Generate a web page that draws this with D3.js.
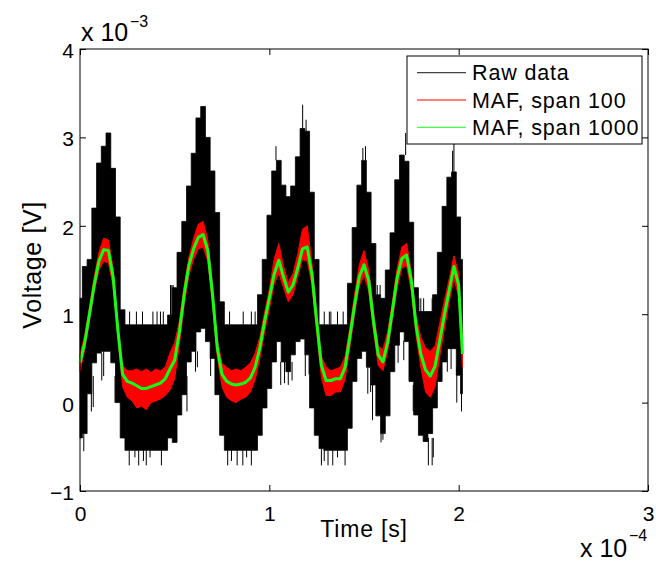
<!DOCTYPE html>
<html>
<head>
<meta charset="utf-8">
<script src="https://cdn.jsdelivr.net/npm/d3@7"></script>
<style>
  html, body { margin: 0; padding: 0; background: #fff; }
  svg { display: block; }
  text { font-family: "Liberation Sans", Arial, Helvetica, sans-serif; fill: #000; }
</style>
</head>
<body>
<svg id="chart" width="656" height="561"></svg>
<script>
// ---- data (time in units of 1e-4 s, voltage in units of 1e-3 V) ----
const time = [0.000,0.025,0.050,0.075,0.100,0.125,0.150,0.175,0.200,0.225,
              0.250,0.275,0.300,0.325,0.350,0.375,0.400,0.425,0.450,0.475,
              0.500,0.525,0.550,0.575,0.600,0.625,0.650,0.675,0.700,0.725,
              0.750,0.775,0.800,0.825,0.850,0.875,0.900,0.925,0.950,0.975,
              1.000,1.025,1.050,1.075,1.100,1.125,1.150,1.175,1.200,1.225,
              1.250,1.275,1.300,1.325,1.350,1.375,1.400,1.425,1.450,1.475,
              1.500,1.525,1.550,1.575,1.600,1.625,1.650,1.675,1.700,1.725,
              1.750,1.775,1.800,1.825,1.850,1.875,1.900,1.925,1.950,1.975,
              2.000,2.020];

// raw data envelope (max / min of the noisy samples around each time)
const rawMax = [1.18,1.54,1.62,2.20,2.71,2.90,3.05,2.65,2.10,1.05,
                0.88,0.88,0.88,0.88,0.88,0.88,0.88,0.88,0.88,0.99,
                1.30,1.70,2.05,2.45,2.82,3.22,3.35,3.00,2.62,2.15,
                1.14,0.88,0.88,0.88,0.88,0.88,0.88,0.88,1.22,1.62,
                2.12,2.62,2.74,2.46,2.33,2.45,2.78,3.10,3.07,2.38,
                1.62,0.88,0.88,0.88,0.88,0.88,0.88,1.35,1.98,2.46,
                2.74,2.38,1.80,1.22,1.18,1.50,1.92,2.52,2.80,2.73,
                2.04,1.30,1.03,1.03,1.03,1.22,1.70,2.22,2.55,2.61,
                2.10,1.62];
const rawMin = [-0.40,-0.35,0.10,0.45,0.56,0.58,0.58,0.45,0.00,-0.40,
                -0.54,-0.54,-0.54,-0.54,-0.54,-0.54,-0.54,-0.54,-0.54,-0.40,
                -0.45,-0.14,0.09,0.46,0.58,0.80,0.84,0.69,0.50,0.09,
                -0.37,-0.54,-0.54,-0.54,-0.54,-0.54,-0.54,-0.54,-0.37,-0.06,
                0.16,0.46,0.69,0.46,0.35,0.54,0.69,0.72,0.54,-0.06,
                -0.37,-0.52,-0.54,-0.54,-0.54,-0.54,-0.54,-0.29,0.24,0.50,
                0.58,0.40,0.20,-0.15,-0.35,-0.15,0.35,0.65,0.80,0.69,
                0.24,-0.14,-0.37,-0.44,-0.35,-0.06,0.24,0.46,0.61,0.61,
                0.31,0.10];

// isolated raw-data spikes: time, start level, end level
const spikeTime = [0.262,0.298,0.330,0.385,0.407,0.425,0.440,0.478,0.485,0.492,
                   0.745,0.758,0.790,0.862,0.905,0.925,1.290,1.317,1.325,1.360,
                   1.390,1.570,1.585,1.790,1.800,1.815,1.860,1.035,1.176,1.194,
                   1.494,1.508,1.720,1.975,1.968,0.260,0.290,0.310,0.335,0.350,
                   0.370,0.430,0.780,0.800,0.830,0.860,0.880,0.905,1.275,1.290,
                   1.310,1.335,1.360,1.400,1.840,1.860,1.866,1.590,1.600,0.020,
                   0.060,0.070,0.115,0.125,0.185,0.565,0.610,0.620,0.690,1.060,
                   1.080,1.100,1.120,1.190,1.210,1.520,1.535,1.545,1.680,1.710,
                   1.760,1.940,1.960,1.990,2.015];
const spikeFrom = [0.88,0.88,0.88,0.88,0.88,0.88,0.88,0.99,0.99,0.99,
                   0.88,0.88,0.88,0.88,0.88,0.88,0.88,0.88,0.88,0.88,
                   0.88,1.22,1.22,1.03,1.03,1.03,1.03,2.74,3.10,3.07,
                   2.74,2.74,2.80,2.61,2.61,-0.54,-0.54,-0.54,-0.54,-0.54,
                   -0.54,-0.54,-0.54,-0.54,-0.54,-0.54,-0.54,-0.54,-0.52,-0.54,
                   -0.54,-0.54,-0.54,-0.54,-0.40,-0.40,-0.40,-0.35,-0.35,-0.35,
                   0.10,0.30,0.56,0.58,0.30,0.30,0.58,0.58,0.55,0.46,
                   0.46,0.35,0.46,0.54,0.54,0.40,0.40,0.20,0.70,0.70,
                   0.20,0.61,0.61,0.40,0.10];
const spikeTo = [1.03,1.03,1.03,1.03,1.03,1.03,1.03,1.33,1.33,1.33,
                 1.03,1.03,1.03,1.03,1.03,1.03,1.03,1.03,1.03,1.03,
                 1.03,1.33,1.33,1.18,1.18,1.18,1.18,2.90,3.37,3.20,
                 2.88,2.90,3.05,2.95,2.85,-0.71,-0.62,-0.71,-0.66,-0.71,
                 -0.62,-0.71,-0.71,-0.66,-0.71,-0.71,-0.62,-0.71,-0.71,-0.66,
                 -0.71,-0.71,-0.62,-0.71,-0.71,-0.71,-0.62,-0.45,-0.42,-0.55,
                 -0.10,-0.05,0.25,0.30,0.00,-0.10,0.35,0.40,0.30,0.20,
                 0.22,0.20,0.25,0.30,0.32,0.10,0.12,-0.20,0.45,0.48,
                 -0.10,0.35,0.38,0.00,-0.10];

// moving average, span 100 (noisy band: upper / lower)
const maf100Max = [0.55,0.76,1.08,1.42,1.70,1.86,1.84,1.52,0.90,0.42,
                   0.36,0.36,0.38,0.35,0.38,0.34,0.38,0.36,0.40,0.56,
                   0.68,0.92,1.32,1.64,1.86,2.02,2.05,1.84,1.32,0.72,
                   0.44,0.40,0.36,0.38,0.36,0.40,0.45,0.56,0.74,1.02,
                   1.28,1.62,1.80,1.54,1.36,1.46,1.68,1.96,2.00,1.58,
                   1.02,0.52,0.40,0.36,0.38,0.40,0.52,0.84,1.22,1.56,
                   1.72,1.50,1.04,0.64,0.60,0.80,1.14,1.52,1.76,1.80,
                   1.48,0.98,0.74,0.62,0.58,0.64,0.90,1.16,1.40,1.66,
                   1.46,0.70];
const maf100Min = [0.35,0.60,0.92,1.25,1.50,1.60,1.58,1.32,0.74,0.18,
                   0.06,0.02,-0.06,-0.04,-0.08,0.00,0.02,0.04,0.08,0.14,
                   0.27,0.66,1.10,1.44,1.62,1.74,1.76,1.60,1.12,0.52,
                   0.18,0.06,0.02,0.00,0.04,0.06,0.12,0.26,0.50,0.80,
                   1.06,1.34,1.46,1.30,1.14,1.22,1.42,1.62,1.60,1.34,
                   0.80,0.28,0.08,0.08,0.12,0.12,0.26,0.62,1.00,1.32,
                   1.44,1.26,0.82,0.42,0.36,0.58,0.94,1.30,1.52,1.55,
                   1.26,0.76,0.40,0.12,0.06,0.18,0.52,0.84,1.14,1.40,
                   1.20,0.40];

// moving average, span 1000
const maf1000 = [0.45,0.68,1.00,1.33,1.60,1.73,1.72,1.42,0.82,0.32,
                 0.24,0.22,0.19,0.16,0.16,0.18,0.20,0.22,0.27,0.38,
                 0.48,0.80,1.22,1.55,1.74,1.87,1.90,1.72,1.22,0.62,
                 0.32,0.24,0.21,0.20,0.21,0.23,0.28,0.40,0.62,0.92,
                 1.18,1.45,1.61,1.42,1.25,1.33,1.52,1.74,1.76,1.45,
                 0.92,0.42,0.25,0.25,0.27,0.27,0.40,0.74,1.10,1.42,
                 1.56,1.38,0.92,0.54,0.46,0.68,1.04,1.41,1.63,1.67,
                 1.38,0.87,0.55,0.37,0.30,0.41,0.70,1.00,1.27,1.54,
                 1.33,0.55];

const xTicks = [0, 1, 2, 3];
const yTicks = [-1, 0, 1, 2, 3, 4];
const xTickLabels = ["0", "1", "2", "3"];
const yTickLabels = ["\u22121", "0", "1", "2", "3", "4"];
const seriesNames = ["Raw data", "MAF, span 100", "MAF, span 1000"];
const seriesColors = ["#000000", "#ff0000", "#11ff11"];
const legendColors = ["#444444", "#ff0000", "#44ff44"];

// ---- drawing ----
const svg = d3.select("#chart");
const L = 80, R = 648, T = 49, B = 491;
const x = d3.scaleLinear().domain([0, 3]).range([L, R]);
const y = d3.scaleLinear().domain([-1, 4]).range([B, T]);

const idx = d3.range(time.length);

// raw data
svg.append("path")
  .datum(idx)
  .attr("d", d3.area().curve(d3.curveStep)
    .x(i => x(time[i])).y0(i => y(rawMin[i])).y1(i => y(rawMax[i])))
  .attr("fill", seriesColors[0])
  .attr("stroke", seriesColors[0]).attr("stroke-width", 0.8);

svg.append("g").selectAll("line").data(d3.range(spikeTime.length)).join("line")
  .attr("x1", i => x(spikeTime[i])).attr("x2", i => x(spikeTime[i]))
  .attr("y1", i => y(spikeFrom[i])).attr("y2", i => y(spikeTo[i]))
  .attr("stroke", seriesColors[0]).attr("stroke-width", 1);

// MAF span 100
svg.append("path")
  .datum(idx)
  .attr("d", d3.area()
    .x(i => x(time[i])).y0(i => y(maf100Min[i])).y1(i => y(maf100Max[i])))
  .attr("fill", seriesColors[1])
  .attr("stroke", seriesColors[1]).attr("stroke-width", 1)
  .attr("stroke-linejoin", "miter");

// MAF span 1000
svg.append("path")
  .datum(idx)
  .attr("d", d3.line().x(i => x(time[i])).y(i => y(maf1000[i])))
  .attr("fill", "none")
  .attr("stroke", seriesColors[2]).attr("stroke-width", 3)
  .attr("stroke-linejoin", "round");

// axes box
svg.append("rect").attr("x", L).attr("y", T).attr("width", R - L).attr("height", B - T)
  .attr("fill", "none").attr("stroke", "#000").attr("stroke-width", 1);

const tickFont = "21px";
const gxB = svg.append("g").attr("transform", `translate(0,${B})`)
  .call(d3.axisBottom(x).tickValues(xTicks).tickSize(-6).tickPadding(15)
        .tickFormat((d, i) => xTickLabels[i]));
const gxT = svg.append("g").attr("transform", `translate(0,${T})`)
  .call(d3.axisTop(x).tickValues(xTicks).tickSize(-6).tickFormat(""));
const gyL = svg.append("g").attr("transform", `translate(${L},0)`)
  .call(d3.axisLeft(y).tickValues(yTicks).tickSize(-6).tickPadding(6)
        .tickFormat((d, i) => yTickLabels[i]));
const gyR = svg.append("g").attr("transform", `translate(${R},0)`)
  .call(d3.axisRight(y).tickValues(yTicks).tickSize(-6).tickFormat(""));
[gxB, gxT, gyL, gyR].forEach(g => {
  g.select(".domain").remove();
  g.selectAll("line").attr("stroke", "#000");
  g.selectAll("text").attr("font-size", tickFont)
    .attr("font-family", "'Liberation Sans', Arial, sans-serif").attr("fill", "#000");
});
gyL.selectAll("text").attr("dy", "0.40em");

// axis labels
svg.append("text").attr("x", 364).attr("y", 537).attr("text-anchor", "middle")
  .attr("font-size", "23px").attr("letter-spacing", "0.8px").text("Time [s]");
svg.append("text").attr("transform", "translate(41,265) rotate(-90)")
  .attr("text-anchor", "middle").attr("font-size", "25px").attr("letter-spacing", "0.6px")
  .text("Voltage [V]");

// exponent annotations
svg.append("text").attr("x", 81).attr("y", 41).attr("font-size", "25px").text("x 10");
svg.append("text").attr("x", 130).attr("y", 27).attr("font-size", "16px").text("\u22123");
svg.append("text").attr("x", 580).attr("y", 557).attr("font-size", "25px").text("x 10");
svg.append("text").attr("x", 629).attr("y", 541).attr("font-size", "16px").text("\u22124");

// legend
const lg = svg.append("g");
lg.append("rect").attr("x", 407).attr("y", 56).attr("width", 235).attr("height", 88)
  .attr("fill", "#fff").attr("stroke", "#000").attr("stroke-width", 1);
seriesNames.forEach((name, i) => {
  const ly = 72.7 + i * 27.3;
  lg.append("line").attr("x1", 417).attr("x2", 466).attr("y1", ly).attr("y2", ly)
    .attr("stroke", legendColors[i]).attr("stroke-width", 1.2);
  lg.append("text").attr("x", 472).attr("y", ly + 7.5).attr("font-size", "21.5px")
    .attr("letter-spacing", "0.85px").text(name);
});
</script>
</body>
</html>
